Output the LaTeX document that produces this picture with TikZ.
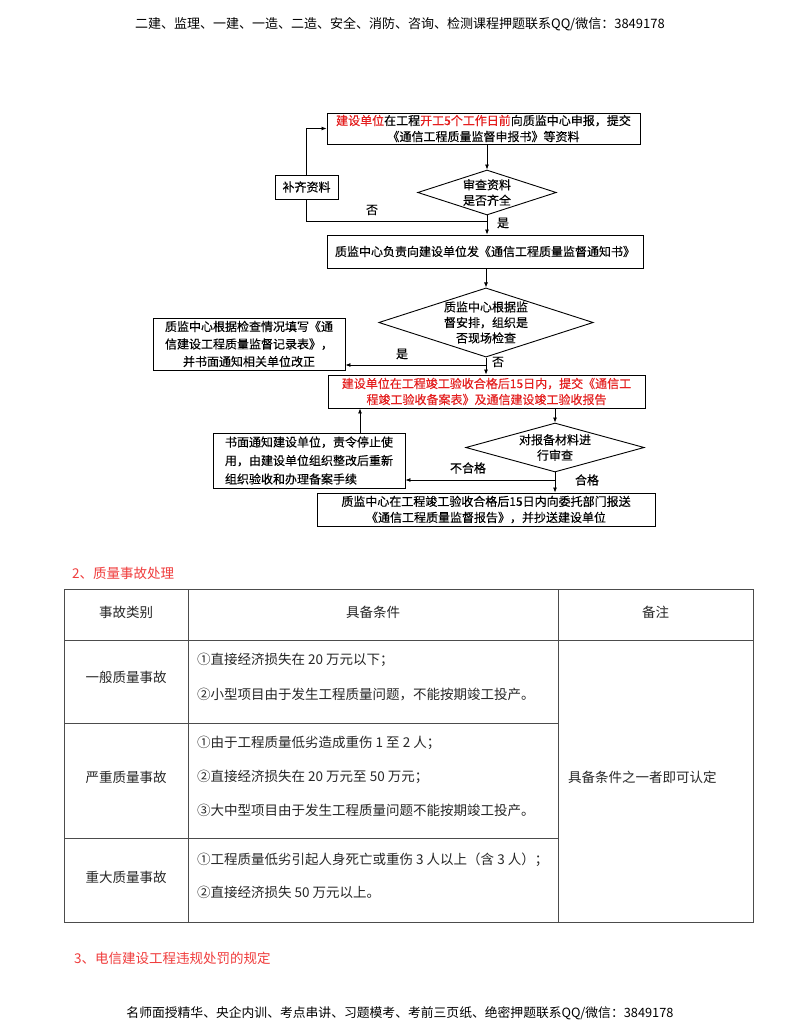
\documentclass[tikz,border=0pt]{standalone}
\usepackage{fontspec}
\setmainfont{Noto Sans CJK SC}
\newfontfamily\fcfont[FakeBold=0.35]{Noto Sans CJK SC}
\usetikzlibrary{shapes.geometric,arrows.meta}
\definecolor{tred}{RGB}{228,30,30}
\definecolor{hred}{RGB}{240,60,60}
\begin{document}
\begin{tikzpicture}[x=1pt,y=-1pt,
  box/.style={draw, line width=0.9pt, inner sep=0pt, align=center, font=\fcfont\fontsize{12}{16}\selectfont},
  dia/.style={draw, diamond, line width=0.9pt, inner sep=0pt, align=center, font=\fcfont\fontsize{12}{15.5}\selectfont},
  arr/.style={-{Latex[length=5pt,width=4pt]}, line width=0.8pt},
  ln/.style={line width=0.8pt},
  lab/.style={font=\fcfont\fontsize{12}{14}\selectfont, inner sep=0pt},
  cell/.style={font=\fontsize{13.5}{15}\selectfont, text=black!85, inner sep=0pt},
  grid/.style={line width=0.8pt, draw=black!70},
  sec/.style={font=\fontsize{13.5}{15}\selectfont, text=hred, inner sep=0pt, anchor=west},
  hdr/.style={font=\fontsize{13}{15}\selectfont, inner sep=0pt}]
\fill[white] (0,0) rectangle (800,1035);
\useasboundingbox (0,0) rectangle (800,1035);

% header / footer
\node[hdr] (top) at (400,24) {二建、监理、一建、一造、二造、安全、消防、咨询、检测课程押题联系QQ/微信：3849178};
\node[hdr, font=\fontsize{12.8}{15}\selectfont] (bot) at (400,1013) {名师面授精华、央企内训、考点串讲、习题模考、考前三页纸、绝密押题联系QQ/微信：3849178};

% flowchart nodes
\node[box, minimum width=313, minimum height=31] (b1) at (483.5,128.5)
  {{\color{tred}建设单位}在工程{\color{tred}开工5个工作日前}向质监中心申报，提交\\《通信工程质量监督申报书》等资料};
\node[dia, minimum width=136, minimum height=45, aspect=3.4] (d1) at (487,192.5) {审查资料\\是否齐全};
\node[box, minimum width=63, minimum height=24] (bq) at (306.5,187) {补齐资料};
\node[box, minimum width=316, minimum height=33] (b2) at (485,251.5) {质监中心负责向建设单位发《通信工程质量监督通知书》};
\node[dia, minimum width=208, minimum height=65, aspect=3.1] (d2) at (486,322.5) {质监中心根据监\\督安排，组织是\\否现场检查};
\node[box, minimum width=192, minimum height=52, font=\fcfont\fontsize{12}{17.5}\selectfont] (b3) at (249,344)
  {质监中心根据检查情况填写《通\\信建设工程质量监督记录表》，\\并书面通知相关单位改正};
\node[box, minimum width=317, minimum height=33, text=tred] (b4) at (486.5,391.5)
  {建设单位在工程竣工验收合格后15日内，提交《通信工\\程竣工验收备案表》及通信建设竣工验收报告};
\node[dia, minimum width=176, minimum height=49, aspect=4] (d3) at (555,447.5) {对报备材料进\\行审查};
\node[box, minimum width=192, minimum height=55, align=left, font=\fcfont\fontsize{12}{18.5}\selectfont] (b5) at (309,460.5)
  {书面通知建设单位，责令停止使\\用，由建设单位组织整改后重新\\组织验收和办理备案手续};
\node[box, minimum width=338, minimum height=33] (b6) at (486,509.5)
  {质监中心在工程竣工验收合格后15日内向委托部门报送\\《通信工程质量监督报告》，并抄送建设单位};

% junction coordinates
\coordinate (j1) at (487,221);
\coordinate (j2) at (486,365);
\coordinate (j3) at (555,480);
\coordinate (c5) at (360,460);

% connectors
\draw[arr] (d1.north |- b1.south) -- (d1.north);
\draw[arr] (d1.south) -- (d1.south |- b2.north);
\draw[ln] (d1.south) -- (j1) -| (bq.south);
\draw[arr] (bq.north) |- (b1.west);
\draw[arr] (d2.north |- b2.south) -- (d2.north);
\draw[ln] (d2.south) -- (j2);
\draw[arr] (j2) -- (j2 -| b3.east);
\draw[arr] (j2) -- (j2 |- b4.north);
\draw[arr] (d3.north |- b4.south) -- (d3.north);
\draw[arr] (c5 |- b5.north) -- (c5 |- b4.south);
\draw[ln] (d3.south) -- (j3);
\draw[arr] (j3) -- (j3 -| b5.east);
\draw[arr] (j3) -- (j3 |- b6.north);

% labels
\node[lab] (l1) at (372,210) {否};
\node[lab] (l2) at (503,223) {是};
\node[lab] (l3) at (402,354) {是};
\node[lab] (l4) at (498,362) {否};
\node[lab] (l5) at (468,468) {不合格};
\node[lab] (l6) at (587,480) {合格};

% section 2
\node[sec] (s2) at (72,573) {2、质量事故处理};

% table
\draw[grid] (64,589) rectangle (753,922);
\draw[grid] (188,589) -- (188,922);
\draw[grid] (558,589) -- (558,922);
\draw[grid] (64,640) -- (753,640);
\draw[grid] (64,723) -- (558,723);
\draw[grid] (64,838) -- (558,838);

\node[cell] (h1) at (126,612) {事故类别};
\node[cell] (h2) at (373,612) {具备条件};
\node[cell] (h3) at (655.5,612) {备注};

\node[cell] (r1) at (126,677) {一般质量事故};
\node[cell, anchor=west] (r1a) at (197,660) {①直接经济损失在 20 万元以下；};
\node[cell, anchor=west] (r1b) at (197,694) {②小型项目由于发生工程质量问题，不能按期竣工投产。};

\node[cell] (r2) at (126,777) {严重质量事故};
\node[cell, anchor=west] (r2a) at (197,743) {①由于工程质量低劣造成重伤 1 至 2 人；};
\node[cell, anchor=west] (r2b) at (197,777) {②直接经济损失在 20 万元至 50 万元；};
\node[cell, anchor=west] (r2c) at (197,810) {③大中型项目由于发生工程质量问题不能按期竣工投产。};

\node[cell] (r3) at (126,877) {重大质量事故};
\node[cell, anchor=west] (r3a) at (197,860) {①工程质量低劣引起人身死亡或重伤 3 人以上（含 3 人）；};
\node[cell, anchor=west] (r3b) at (197,892) {②直接经济损失 50 万元以上。};

\node[cell, anchor=west] (note) at (568,777) {具备条件之一者即可认定};

% section 3
\node[sec] (s3) at (74,958) {3、电信建设工程违规处罚的规定};
\end{tikzpicture}
\end{document}
